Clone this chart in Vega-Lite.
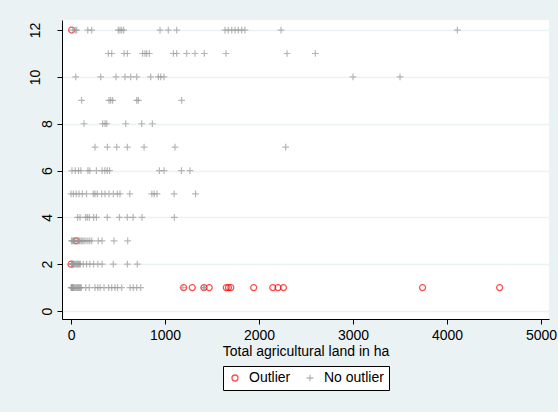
{
  "$schema": "https://vega.github.io/schema/vega-lite/v6.json",
  "autosize": {"type": "none"},
  "width": 487,
  "height": 299,
  "padding": {"left": 62, "top": 20, "right": 9, "bottom": 93},
  "background": "#EAF2F3",
  "config": {
    "view": {"stroke": null, "fill": "white"},
    "font": "Liberation Sans",
    "axis": {"labelFont": "Liberation Sans", "titleFont": "Liberation Sans", "labelFontSize": 14, "titleFontSize": 14, "titleFontWeight": "normal", "labelColor": "black", "titleColor": "black", "domainColor": "black", "tickColor": "black", "tickSize": 5, "domainWidth": 1, "tickWidth": 1}
  },
  "datasets": {
    "pts": [
      {"x": 7, "y": 12, "g": "Outlier"},
      {"x": 55, "y": 3, "g": "Outlier"},
      {"x": 0, "y": 2, "g": "Outlier"},
      {"x": 1198, "y": 1, "g": "Outlier"},
      {"x": 1290, "y": 1, "g": "Outlier"},
      {"x": 1414, "y": 1, "g": "Outlier"},
      {"x": 1470, "y": 1, "g": "Outlier"},
      {"x": 1652, "y": 1, "g": "Outlier"},
      {"x": 1675, "y": 1, "g": "Outlier"},
      {"x": 1700, "y": 1, "g": "Outlier"},
      {"x": 1943, "y": 1, "g": "Outlier"},
      {"x": 2146, "y": 1, "g": "Outlier"},
      {"x": 2202, "y": 1, "g": "Outlier"},
      {"x": 2260, "y": 1, "g": "Outlier"},
      {"x": 3740, "y": 1, "g": "Outlier"},
      {"x": 4560, "y": 1, "g": "Outlier"},

      {"x": 20, "y": 12, "g": "No outlier"},
      {"x": 45, "y": 12, "g": "No outlier"},
      {"x": 60, "y": 12, "g": "No outlier"},
      {"x": 178, "y": 12, "g": "No outlier"},
      {"x": 220, "y": 12, "g": "No outlier"},
      {"x": 503, "y": 12, "g": "No outlier"},
      {"x": 521, "y": 12, "g": "No outlier"},
      {"x": 539, "y": 12, "g": "No outlier"},
      {"x": 560, "y": 12, "g": "No outlier"},
      {"x": 947, "y": 12, "g": "No outlier"},
      {"x": 1035, "y": 12, "g": "No outlier"},
      {"x": 1124, "y": 12, "g": "No outlier"},
      {"x": 1638, "y": 12, "g": "No outlier"},
      {"x": 1673, "y": 12, "g": "No outlier"},
      {"x": 1710, "y": 12, "g": "No outlier"},
      {"x": 1745, "y": 12, "g": "No outlier"},
      {"x": 1780, "y": 12, "g": "No outlier"},
      {"x": 1815, "y": 12, "g": "No outlier"},
      {"x": 1850, "y": 12, "g": "No outlier"},
      {"x": 2234, "y": 12, "g": "No outlier"},
      {"x": 4110, "y": 12, "g": "No outlier"},

      {"x": 397, "y": 11, "g": "No outlier"},
      {"x": 433, "y": 11, "g": "No outlier"},
      {"x": 564, "y": 11, "g": "No outlier"},
      {"x": 599, "y": 11, "g": "No outlier"},
      {"x": 762, "y": 11, "g": "No outlier"},
      {"x": 787, "y": 11, "g": "No outlier"},
      {"x": 805, "y": 11, "g": "No outlier"},
      {"x": 833, "y": 11, "g": "No outlier"},
      {"x": 1089, "y": 11, "g": "No outlier"},
      {"x": 1124, "y": 11, "g": "No outlier"},
      {"x": 1230, "y": 11, "g": "No outlier"},
      {"x": 1319, "y": 11, "g": "No outlier"},
      {"x": 1418, "y": 11, "g": "No outlier"},
      {"x": 1649, "y": 11, "g": "No outlier"},
      {"x": 2298, "y": 11, "g": "No outlier"},
      {"x": 2599, "y": 11, "g": "No outlier"},

      {"x": 50, "y": 10, "g": "No outlier"},
      {"x": 316, "y": 10, "g": "No outlier"},
      {"x": 479, "y": 10, "g": "No outlier"},
      {"x": 574, "y": 10, "g": "No outlier"},
      {"x": 635, "y": 10, "g": "No outlier"},
      {"x": 699, "y": 10, "g": "No outlier"},
      {"x": 848, "y": 10, "g": "No outlier"},
      {"x": 929, "y": 10, "g": "No outlier"},
      {"x": 954, "y": 10, "g": "No outlier"},
      {"x": 989, "y": 10, "g": "No outlier"},
      {"x": 3000, "y": 10, "g": "No outlier"},
      {"x": 3500, "y": 10, "g": "No outlier"},

      {"x": 113, "y": 9, "g": "No outlier"},
      {"x": 404, "y": 9, "g": "No outlier"},
      {"x": 422, "y": 9, "g": "No outlier"},
      {"x": 443, "y": 9, "g": "No outlier"},
      {"x": 699, "y": 9, "g": "No outlier"},
      {"x": 716, "y": 9, "g": "No outlier"},
      {"x": 1177, "y": 9, "g": "No outlier"},

      {"x": 138, "y": 8, "g": "No outlier"},
      {"x": 337, "y": 8, "g": "No outlier"},
      {"x": 362, "y": 8, "g": "No outlier"},
      {"x": 380, "y": 8, "g": "No outlier"},
      {"x": 582, "y": 8, "g": "No outlier"},
      {"x": 752, "y": 8, "g": "No outlier"},
      {"x": 865, "y": 8, "g": "No outlier"},

      {"x": 255, "y": 7, "g": "No outlier"},
      {"x": 387, "y": 7, "g": "No outlier"},
      {"x": 486, "y": 7, "g": "No outlier"},
      {"x": 599, "y": 7, "g": "No outlier"},
      {"x": 777, "y": 7, "g": "No outlier"},
      {"x": 1106, "y": 7, "g": "No outlier"},
      {"x": 2284, "y": 7, "g": "No outlier"},

      {"x": 10, "y": 6, "g": "No outlier"},
      {"x": 45, "y": 6, "g": "No outlier"},
      {"x": 80, "y": 6, "g": "No outlier"},
      {"x": 105, "y": 6, "g": "No outlier"},
      {"x": 180, "y": 6, "g": "No outlier"},
      {"x": 200, "y": 6, "g": "No outlier"},
      {"x": 270, "y": 6, "g": "No outlier"},
      {"x": 330, "y": 6, "g": "No outlier"},
      {"x": 360, "y": 6, "g": "No outlier"},
      {"x": 385, "y": 6, "g": "No outlier"},
      {"x": 410, "y": 6, "g": "No outlier"},
      {"x": 940, "y": 6, "g": "No outlier"},
      {"x": 990, "y": 6, "g": "No outlier"},
      {"x": 1175, "y": 6, "g": "No outlier"},
      {"x": 1265, "y": 6, "g": "No outlier"},

      {"x": 0, "y": 5, "g": "No outlier"},
      {"x": 25, "y": 5, "g": "No outlier"},
      {"x": 55, "y": 5, "g": "No outlier"},
      {"x": 85, "y": 5, "g": "No outlier"},
      {"x": 120, "y": 5, "g": "No outlier"},
      {"x": 165, "y": 5, "g": "No outlier"},
      {"x": 237, "y": 5, "g": "No outlier"},
      {"x": 255, "y": 5, "g": "No outlier"},
      {"x": 280, "y": 5, "g": "No outlier"},
      {"x": 326, "y": 5, "g": "No outlier"},
      {"x": 362, "y": 5, "g": "No outlier"},
      {"x": 404, "y": 5, "g": "No outlier"},
      {"x": 450, "y": 5, "g": "No outlier"},
      {"x": 493, "y": 5, "g": "No outlier"},
      {"x": 521, "y": 5, "g": "No outlier"},
      {"x": 625, "y": 5, "g": "No outlier"},
      {"x": 860, "y": 5, "g": "No outlier"},
      {"x": 885, "y": 5, "g": "No outlier"},
      {"x": 915, "y": 5, "g": "No outlier"},
      {"x": 1097, "y": 5, "g": "No outlier"},
      {"x": 1325, "y": 5, "g": "No outlier"},

      {"x": 70, "y": 4, "g": "No outlier"},
      {"x": 96, "y": 4, "g": "No outlier"},
      {"x": 156, "y": 4, "g": "No outlier"},
      {"x": 173, "y": 4, "g": "No outlier"},
      {"x": 195, "y": 4, "g": "No outlier"},
      {"x": 240, "y": 4, "g": "No outlier"},
      {"x": 270, "y": 4, "g": "No outlier"},
      {"x": 386, "y": 4, "g": "No outlier"},
      {"x": 515, "y": 4, "g": "No outlier"},
      {"x": 599, "y": 4, "g": "No outlier"},
      {"x": 661, "y": 4, "g": "No outlier"},
      {"x": 755, "y": 4, "g": "No outlier"},
      {"x": 1099, "y": 4, "g": "No outlier"},

      {"x": 5, "y": 3, "g": "No outlier"},
      {"x": 15, "y": 3, "g": "No outlier"},
      {"x": 25, "y": 3, "g": "No outlier"},
      {"x": 35, "y": 3, "g": "No outlier"},
      {"x": 45, "y": 3, "g": "No outlier"},
      {"x": 65, "y": 3, "g": "No outlier"},
      {"x": 75, "y": 3, "g": "No outlier"},
      {"x": 85, "y": 3, "g": "No outlier"},
      {"x": 95, "y": 3, "g": "No outlier"},
      {"x": 110, "y": 3, "g": "No outlier"},
      {"x": 125, "y": 3, "g": "No outlier"},
      {"x": 140, "y": 3, "g": "No outlier"},
      {"x": 160, "y": 3, "g": "No outlier"},
      {"x": 180, "y": 3, "g": "No outlier"},
      {"x": 200, "y": 3, "g": "No outlier"},
      {"x": 220, "y": 3, "g": "No outlier"},
      {"x": 290, "y": 3, "g": "No outlier"},
      {"x": 330, "y": 3, "g": "No outlier"},
      {"x": 457, "y": 3, "g": "No outlier"},
      {"x": 603, "y": 3, "g": "No outlier"},

      {"x": 5, "y": 2, "g": "No outlier"},
      {"x": 10, "y": 2, "g": "No outlier"},
      {"x": 15, "y": 2, "g": "No outlier"},
      {"x": 20, "y": 2, "g": "No outlier"},
      {"x": 25, "y": 2, "g": "No outlier"},
      {"x": 30, "y": 2, "g": "No outlier"},
      {"x": 40, "y": 2, "g": "No outlier"},
      {"x": 50, "y": 2, "g": "No outlier"},
      {"x": 60, "y": 2, "g": "No outlier"},
      {"x": 70, "y": 2, "g": "No outlier"},
      {"x": 80, "y": 2, "g": "No outlier"},
      {"x": 90, "y": 2, "g": "No outlier"},
      {"x": 100, "y": 2, "g": "No outlier"},
      {"x": 130, "y": 2, "g": "No outlier"},
      {"x": 165, "y": 2, "g": "No outlier"},
      {"x": 200, "y": 2, "g": "No outlier"},
      {"x": 240, "y": 2, "g": "No outlier"},
      {"x": 285, "y": 2, "g": "No outlier"},
      {"x": 330, "y": 2, "g": "No outlier"},
      {"x": 450, "y": 2, "g": "No outlier"},
      {"x": 600, "y": 2, "g": "No outlier"},
      {"x": 705, "y": 2, "g": "No outlier"},

      {"x": 0, "y": 1, "g": "No outlier"},
      {"x": 5, "y": 1, "g": "No outlier"},
      {"x": 10, "y": 1, "g": "No outlier"},
      {"x": 15, "y": 1, "g": "No outlier"},
      {"x": 20, "y": 1, "g": "No outlier"},
      {"x": 25, "y": 1, "g": "No outlier"},
      {"x": 30, "y": 1, "g": "No outlier"},
      {"x": 40, "y": 1, "g": "No outlier"},
      {"x": 50, "y": 1, "g": "No outlier"},
      {"x": 60, "y": 1, "g": "No outlier"},
      {"x": 70, "y": 1, "g": "No outlier"},
      {"x": 80, "y": 1, "g": "No outlier"},
      {"x": 90, "y": 1, "g": "No outlier"},
      {"x": 100, "y": 1, "g": "No outlier"},
      {"x": 110, "y": 1, "g": "No outlier"},
      {"x": 156, "y": 1, "g": "No outlier"},
      {"x": 195, "y": 1, "g": "No outlier"},
      {"x": 255, "y": 1, "g": "No outlier"},
      {"x": 285, "y": 1, "g": "No outlier"},
      {"x": 309, "y": 1, "g": "No outlier"},
      {"x": 351, "y": 1, "g": "No outlier"},
      {"x": 400, "y": 1, "g": "No outlier"},
      {"x": 433, "y": 1, "g": "No outlier"},
      {"x": 468, "y": 1, "g": "No outlier"},
      {"x": 495, "y": 1, "g": "No outlier"},
      {"x": 539, "y": 1, "g": "No outlier"},
      {"x": 628, "y": 1, "g": "No outlier"},
      {"x": 663, "y": 1, "g": "No outlier"},
      {"x": 699, "y": 1, "g": "No outlier"},
      {"x": 741, "y": 1, "g": "No outlier"},
      {"x": 1190, "y": 1, "g": "No outlier"},
      {"x": 1410, "y": 1, "g": "No outlier"},
      {"x": 1420, "y": 1, "g": "No outlier"}
    ]
  },
  "data": {"name": "pts"},
  "mark": {"type": "point", "filled": false, "strokeWidth": 1.2},
  "encoding": {
    "x": {
      "field": "x", "type": "quantitative",
      "scale": {"domain": [-96, 5085], "nice": false, "zero": false},
      "axis": {"values": [0, 1000, 2000, 3000, 4000, 5000], "grid": false, "title": "Total agricultural land in ha", "labelPadding": 4, "titlePadding": 2, "labelFlush": false, "labelOverlap": false, "format": "d"}
    },
    "y": {
      "field": "y", "type": "quantitative",
      "scale": {"domain": [-0.34, 12.43], "nice": false, "zero": false},
      "axis": {"values": [0, 2, 4, 6, 8, 10, 12], "grid": true, "gridColor": "#EAF2F3", "gridWidth": 1.5, "title": null, "labelAngle": 270, "labelAlign": "center", "labelBaseline": "alphabetic", "labelPadding": {"condition": {"test": "datum.value >= 10", "value": 18}, "value": 6}, "labelFlush": false, "labelOverlap": false}
    },
    "color": {
      "field": "g", "type": "nominal",
      "scale": {"domain": ["Outlier", "No outlier"], "range": ["#FF0000", "#999999"]},
      "legend": {"orient": "none", "legendX": 161, "legendY": 346, "direction": "horizontal", "title": null, "strokeColor": "black", "fillColor": "white", "padding": 5, "labelFont": "Liberation Sans", "labelFontSize": 14, "labelColor": "black", "columnPadding": 12, "labelOffset": 7, "symbolStrokeWidth": 1.3}
    },
    "shape": {
      "field": "g", "type": "nominal",
      "scale": {"domain": ["Outlier", "No outlier"], "range": ["circle", "M-1,0L1,0M0,-1L0,1"]}
    },
    "size": {
      "field": "g", "type": "nominal",
      "scale": {"domain": ["Outlier", "No outlier"], "range": [36, 45]}
    }
  }
}
